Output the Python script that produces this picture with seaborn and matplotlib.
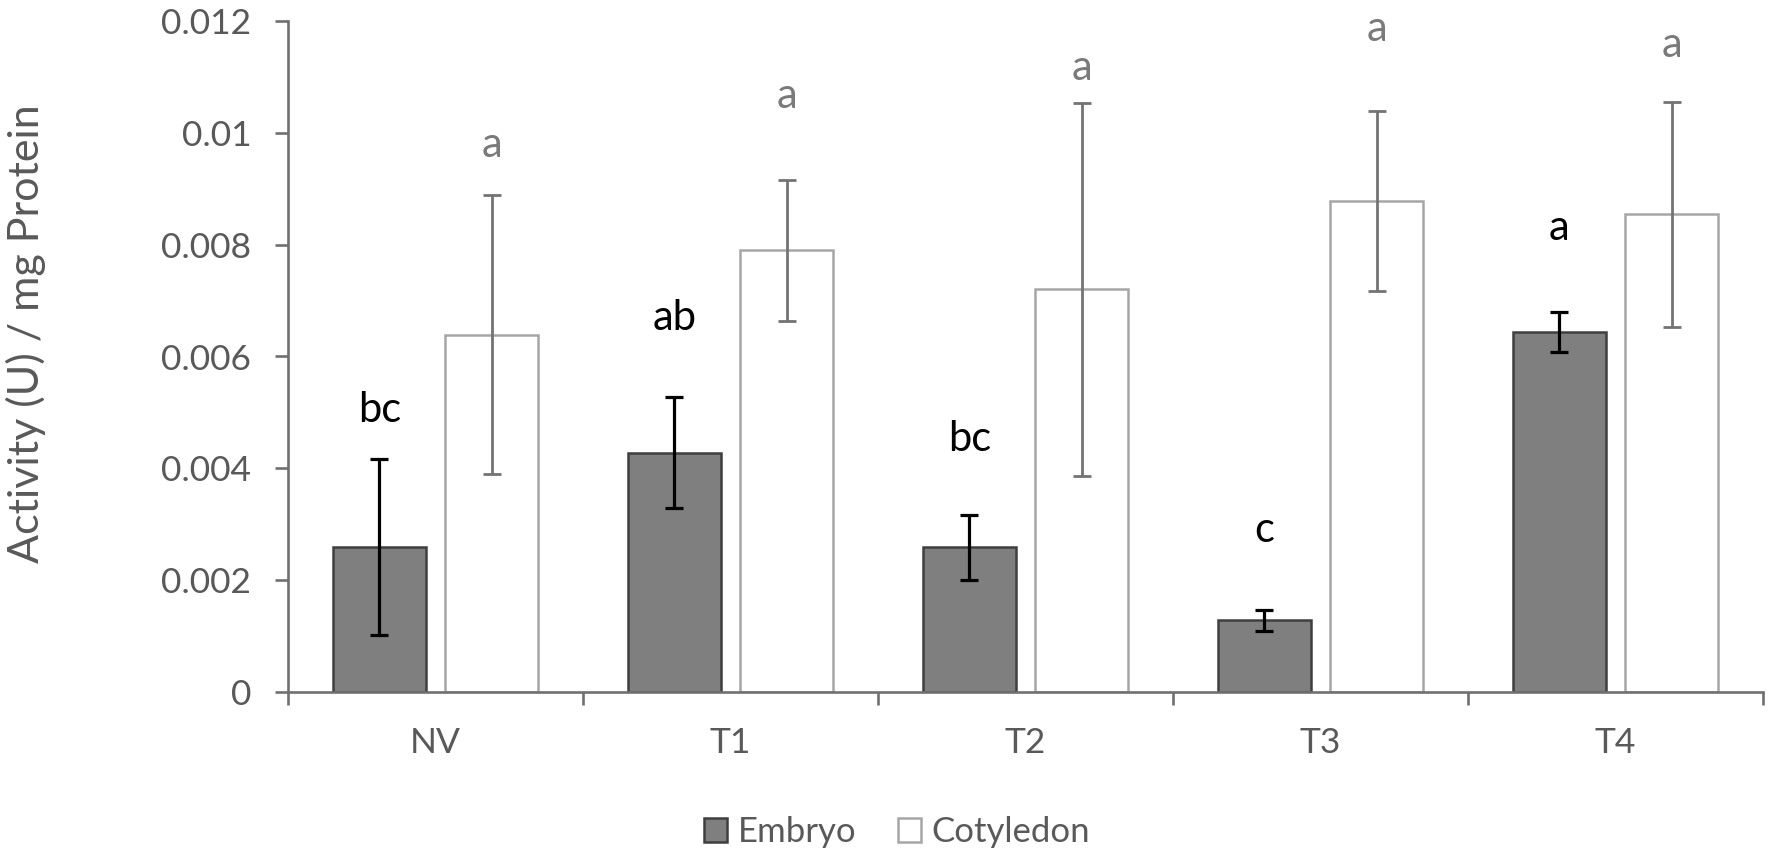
import pandas as pd
import numpy as np
import matplotlib
matplotlib.use('Agg')
import matplotlib.pyplot as plt
import seaborn as sns

# dados
treatments = ['NV', 'T1', 'T2', 'T3', 'T4']
embryo_mean = [0.00259, 0.00428, 0.00259, 0.00128, 0.00644]
embryo_err = [0.00157, 0.00099, 0.00058, 0.00019, 0.00036]
cotyledon_mean = [0.00639, 0.00790, 0.00720, 0.00878, 0.00854]
cotyledon_err = [0.00249, 0.00126, 0.00333, 0.00161, 0.00201]
embryo_letters = ['bc', 'ab', 'bc', 'c', 'a']
cotyledon_letters = ['a', 'a', 'a', 'a', 'a']
y_ticks = [0, 0.002, 0.004, 0.006, 0.008, 0.01, 0.012]
y_tick_labels = ['0', '0.002', '0.004', '0.006', '0.008', '0.01', '0.012']

df = pd.DataFrame({
    'Tratamento': treatments * 2,
    'Tecido': ['Embryo'] * 5 + ['Cotyledon'] * 5,
    'Atividade': embryo_mean + cotyledon_mean,
})

sns.set_theme(style='white')
plt.rcParams['font.family'] = ['Lato', 'DejaVu Sans']

fig = plt.figure(figsize=(17.72, 8.55), dpi=100)
ax = fig.add_axes([288 / 1772, 1 - 692 / 855, 1475 / 1772, 671 / 855])

sns.barplot(data=df, x='Tratamento', y='Atividade', hue='Tecido',
            palette={'Embryo': '#7f7f7f', 'Cotyledon': 'white'},
            errorbar=None, width=0.76, gap=0.17, legend=False, ax=ax)

emb_bars, cot_bars = ax.containers[0], ax.containers[1]
for b in emb_bars:
    b.set_edgecolor('#3f3f3f')
    b.set_linewidth(1.8)
for b in cot_bars:
    b.set_edgecolor('#a6a6a6')
    b.set_linewidth(1.8)

# barras de erro a partir das posicoes das barras
emb_x = [b.get_x() + b.get_width() / 2 for b in emb_bars]
cot_x = [b.get_x() + b.get_width() / 2 for b in cot_bars]
ax.errorbar(emb_x, embryo_mean, yerr=embryo_err, fmt='none', ecolor='black',
            elinewidth=2.3, capsize=6.8, capthick=2.3, zorder=5)
ax.errorbar(cot_x, cotyledon_mean, yerr=cotyledon_err, fmt='none', ecolor='#737373',
            elinewidth=2.0, capsize=6.8, capthick=2.0, zorder=5)

# letras de significancia (linha de base)
emb_letter_y = [0.00482, 0.00647, 0.00431, 0.00269, 0.00808]
cot_letter_y = [0.00957, 0.01045, 0.01095, 0.01164, 0.01135]
for x, y, t in zip(emb_x, emb_letter_y, embryo_letters):
    ax.text(x, y, t, ha='center', va='baseline', fontsize=30, color='black', clip_on=False)
for x, y, t in zip(cot_x, cot_letter_y, cotyledon_letters):
    ax.text(x, y, t, ha='center', va='baseline', fontsize=30, color='#7a7a7a', clip_on=False)

# eixos
ax.set_ylim(0, 0.012)
ax.set_xlim(-0.5, 4.5)
ax.set_yticks(y_ticks)
ax.set_yticklabels(y_tick_labels)
ax.set_xticks(range(len(treatments)))
ax.set_xticklabels(treatments)
ax.set_xticks(np.arange(-0.5, 5, 1), minor=True)
for s in ['top', 'right']:
    ax.spines[s].set_visible(False)
for s in ['left', 'bottom']:
    ax.spines[s].set_color('#707070')
    ax.spines[s].set_linewidth(1.9)
ax.tick_params(axis='y', direction='out', length=9.4, width=1.9, color='#707070',
               labelsize=25.5, labelcolor='#595959', pad=17, left=True)
ax.tick_params(axis='x', which='major', length=0, labelsize=25.5, labelcolor='#595959', pad=25)
ax.tick_params(axis='x', which='minor', direction='out', length=9.4, width=1.9,
               color='#707070', bottom=True)
ax.set_xlabel('')
ax.set_ylabel('Activity (U) / mg Protein', fontsize=31, color='#595959')
ax.yaxis.label.set_va('center')
ax.yaxis.set_label_coords(-0.178, 0.534)

leg = ax.legend(handles=[emb_bars, cot_bars], labels=['Embryo', 'Cotyledon'],
                loc='center', bbox_to_anchor=(897 / 1772, 1 - 832 / 855),
                bbox_transform=fig.transFigure, ncol=2, frameon=False,
                fontsize=25, handlelength=0.68, handleheight=0.68,
                handletextpad=0.3, columnspacing=1.2)
for t in leg.get_texts():
    t.set_color('#595959')

fig.savefig('out.png', dpi=100)
